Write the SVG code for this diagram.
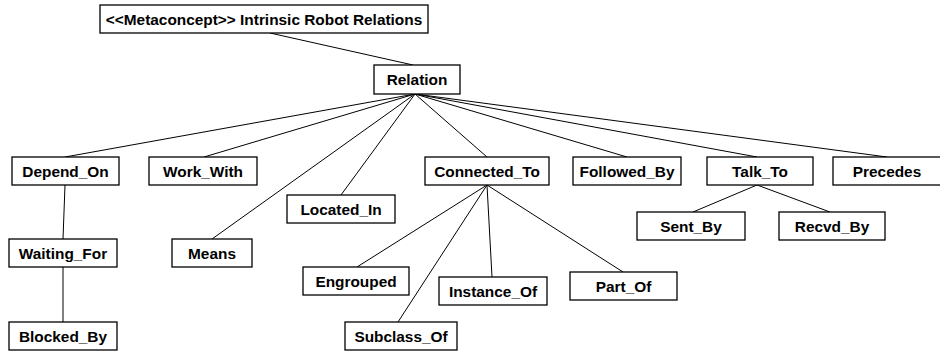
<svg xmlns="http://www.w3.org/2000/svg" width="940" height="360" viewBox="0 0 940 360">
<style>
rect{fill:#fff;stroke:#000;stroke-width:1.3}
text{font-family:"Liberation Sans",Arial,sans-serif;font-weight:bold;font-size:15.4px;text-anchor:middle;fill:#000}
#connectors line{stroke:#000;stroke-width:1}
</style>
<rect x="0" y="0" width="940" height="360" style="fill:#fff;stroke:none"/>
<g id="connectors">
<line x1="270" y1="33" x2="413" y2="65"/>
<line x1="415" y1="94" x2="65" y2="157"/>
<line x1="415" y1="94" x2="204" y2="157"/>
<line x1="415" y1="94" x2="212" y2="239"/>
<line x1="415" y1="94" x2="341" y2="195"/>
<line x1="415" y1="94" x2="487" y2="157"/>
<line x1="415" y1="94" x2="627" y2="157"/>
<line x1="415" y1="94" x2="757" y2="157"/>
<line x1="415" y1="94" x2="887" y2="157"/>
<line x1="487" y1="185" x2="357" y2="267"/>
<line x1="487" y1="185" x2="398" y2="322"/>
<line x1="487" y1="185" x2="492" y2="277"/>
<line x1="487" y1="185" x2="623" y2="272"/>
<line x1="757" y1="185" x2="693" y2="212"/>
<line x1="757" y1="185" x2="830" y2="212"/>
<line x1="65" y1="185" x2="63" y2="239"/>
<line x1="63" y1="267" x2="63" y2="322"/>
</g>
<g id="title"><rect x="100" y="5" width="328" height="28"/><text x="264" y="24.5">&lt;&lt;Metaconcept&gt;&gt; Intrinsic Robot Relations</text></g>
<g id="relation"><rect x="374" y="65" width="86" height="29"/><text x="417" y="85">Relation</text></g>
<g id="depend_on"><rect x="12" y="157" width="107" height="28"/><text x="65.5" y="176.5">Depend_On</text></g>
<g id="work_with"><rect x="149" y="157" width="108" height="28"/><text x="203" y="176.5">Work_With</text></g>
<g id="located_in"><rect x="287" y="195" width="108" height="28"/><text x="341" y="214.5">Located_In</text></g>
<g id="connected_to"><rect x="425" y="157" width="124" height="28"/><text x="487" y="176.5">Connected_To</text></g>
<g id="followed_by"><rect x="573" y="157" width="108" height="28"/><text x="627" y="176.5">Followed_By</text></g>
<g id="talk_to"><rect x="707" y="157" width="106" height="28"/><text x="760" y="176.5">Talk_To</text></g>
<g id="precedes"><rect x="833" y="157" width="108" height="28"/><text x="887" y="176.5">Precedes</text></g>
<g id="waiting_for"><rect x="9" y="239" width="108" height="28"/><text x="63" y="258.5">Waiting_For</text></g>
<g id="means"><rect x="172" y="239" width="80" height="28"/><text x="212" y="258.5">Means</text></g>
<g id="sent_by"><rect x="637" y="212" width="108" height="28"/><text x="691" y="231.5">Sent_By</text></g>
<g id="recvd_by"><rect x="779" y="212" width="106" height="28"/><text x="832" y="231.5">Recvd_By</text></g>
<g id="engrouped"><rect x="303" y="267" width="106" height="28"/><text x="356" y="286.5">Engrouped</text></g>
<g id="instance_of"><rect x="439" y="277" width="108" height="28"/><text x="493" y="296.5">Instance_Of</text></g>
<g id="part_of"><rect x="570" y="272" width="107" height="28"/><text x="623.5" y="291.5">Part_Of</text></g>
<g id="blocked_by"><rect x="9" y="322" width="108" height="28"/><text x="63" y="341.5">Blocked_By</text></g>
<g id="subclass_of"><rect x="345" y="322" width="112" height="28"/><text x="401" y="341.5">Subclass_Of</text></g>
</svg>
